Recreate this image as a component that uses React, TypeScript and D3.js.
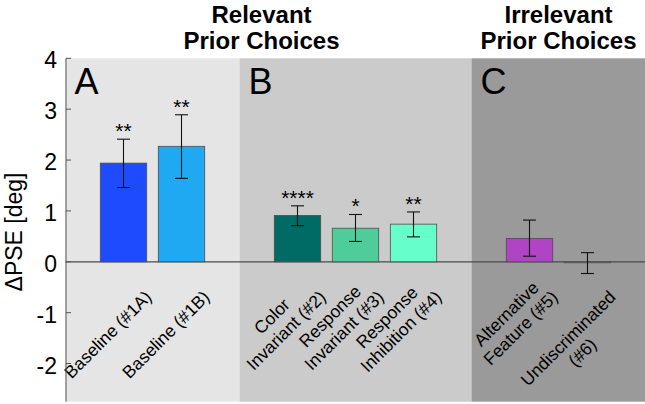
import React from "react";
import * as d3 from "d3";

const categories: string[][] = [
  ["Baseline (#1A)"],
  ["Baseline (#1B)"],
  ["Color", "Invariant (#2)"],
  ["Response", "Invariant (#3)"],
  ["Response", "Inhibition (#4)"],
  ["Alternative", "Feature (#5)"],
  ["Undiscriminated", "(#6)"],
];
const positions = [1, 2, 4, 5, 6, 8, 9];
const means = [1.94, 2.27, 0.91, 0.66, 0.74, 0.46, -0.02];
const errLow = [1.46, 1.64, 0.71, 0.40, 0.49, 0.11, -0.23];
const errHigh = [2.41, 2.89, 1.10, 0.93, 0.98, 0.82, 0.18];
const stars = ["**", "**", "****", "*", "**", "", ""];
const barColors = ["#1f4bff", "#1fa9f2", "#006b64", "#4ecc99", "#66ffcc", "#b044c4", "#9a9a9a"];
const panelNames = ["A", "B", "C"];
const panelStart = [0, 3, 7];
const panelEnd = [3, 7, 10];
const panelColors = ["#e5e5e5", "#cbcbcb", "#9a9a9a"];
const groupTitles = [["Relevant", "Prior Choices"], ["Irrelevant", "Prior Choices"]];
const groupCenters = [3.38, 8.5];
const yTicks = [-2, -1, 0, 1, 2, 3, 4];

const W = 645;
const H = 404;
const FONT = "'Liberation Sans', Arial, sans-serif";

let ctx: CanvasRenderingContext2D | null = null;
function textWidth(s: string, size: number): number {
  if (!ctx) {
    const c = document.createElement("canvas");
    ctx = c.getContext("2d");
  }
  if (!ctx) return s.length * size * 0.5;
  ctx.font = `${size}px "Liberation Sans"`;
  return ctx.measureText(s).width;
}

export default function App() {
  const x = d3.scaleLinear().domain([0, 10]).range([65.5, 645.5]);
  const y = d3.scaleLinear().domain([-2.75, 4]).range([401.7, 58.3]);
  const bw = (x(1) - x(0)) * 0.8;
  const labelSize = 17.5;
  const lh = 20;

  return (
    <svg
      width={W}
      height={H}
      style={{ position: "fixed", left: 0, top: 0, background: "#fff" }}
      fontFamily={FONT}
    >
      {panelNames.map((p, i) => (
        <g key={p}>
          <rect
            x={x(panelStart[i])}
            y={y(4)}
            width={x(panelEnd[i]) - x(panelStart[i])}
            height={y(-2.75) - y(4)}
            fill={panelColors[i]}
          />
          <text x={x(panelStart[i]) + 9} y={94} fontSize={36} fill="#000">
            {p}
          </text>
        </g>
      ))}

      {groupTitles.map((t, i) => (
        <text key={i} x={x(groupCenters[i])} textAnchor="middle" fontSize={24} fontWeight="bold" fill="#000">
          <tspan x={x(groupCenters[i])} y={22.5}>{t[0]}</tspan>
          <tspan x={x(groupCenters[i])} y={48.5}>{t[1]}</tspan>
        </text>
      ))}

      {/* zero axis line */}
      <line x1={x(0)} x2={x(10)} y1={y(0)} y2={y(0)} stroke="#4a4a4a" strokeWidth={1.2} />

      {/* bars */}
      {means.map((m, i) => {
        const cx = x(positions[i]);
        const y0 = y(Math.max(0, m));
        const h = Math.abs(y(m) - y(0));
        return (
          <rect
            key={i}
            x={cx - bw / 2}
            y={y0}
            width={bw}
            height={Math.max(h, 0.5)}
            fill={barColors[i]}
            stroke="#4d4d4d"
            strokeWidth={0.8}
          />
        );
      })}

      {/* error bars */}
      {means.map((m, i) => {
        const cx = x(positions[i]);
        const cap = 6.5;
        return (
          <g key={"e" + i} stroke="#111" strokeWidth={1.1}>
            <line x1={cx} x2={cx} y1={y(errLow[i])} y2={y(errHigh[i])} />
            <line x1={cx - cap} x2={cx + cap} y1={y(errLow[i])} y2={y(errLow[i])} />
            <line x1={cx - cap} x2={cx + cap} y1={y(errHigh[i])} y2={y(errHigh[i])} />
          </g>
        );
      })}

      {/* stars */}
      {stars.map((s, i) =>
        s ? (
          <text
            key={"s" + i}
            x={x(positions[i])}
            y={y(errHigh[i]) - 1}
            textAnchor="middle"
            fontSize={21}
            fill="#000"
          >
            {s}
          </text>
        ) : null
      )}

      {/* category labels */}
      {categories.map((lines, i) => {
        const widths = lines.map((l) => textWidth(l, labelSize));
        const maxW = Math.max(...widths);
        const k = widths.indexOf(maxW);
        const ax = x(positions[i]) + 25;
        const ay = 294;
        return (
          <g key={"l" + i} transform={`translate(${ax},${ay}) rotate(-45)`}>
            {lines.map((l, j) => (
              <text
                key={j}
                x={-maxW / 2}
                y={(j - k) * lh + 6}
                textAnchor="middle"
                fontSize={labelSize}
                fill="#000"
              >
                {l}
              </text>
            ))}
          </g>
        );
      })}

      {/* y axis */}
      <line x1={x(0) + 0.5} x2={x(0) + 0.5} y1={y(4)} y2={y(-2.75)} stroke="#555" strokeWidth={1} />
      {yTicks.map((t) => (
        <g key={"t" + t}>
          <line x1={x(0) + 0.5} x2={x(0) + 5.5} y1={y(t)} y2={y(t)} stroke="#555" strokeWidth={1} />
          <text
            x={57}
            y={y(t) + 2}
            textAnchor="end"
            dominantBaseline="central"
            fontSize={23}
            fill="#000"
          >
            {t}
          </text>
        </g>
      ))}
      <text
        transform={`translate(22,232) rotate(-90)`}
        textAnchor="middle"
        fontSize={23}
        fill="#000"
      >
        ΔPSE [deg]
      </text>
    </svg>
  );
}
